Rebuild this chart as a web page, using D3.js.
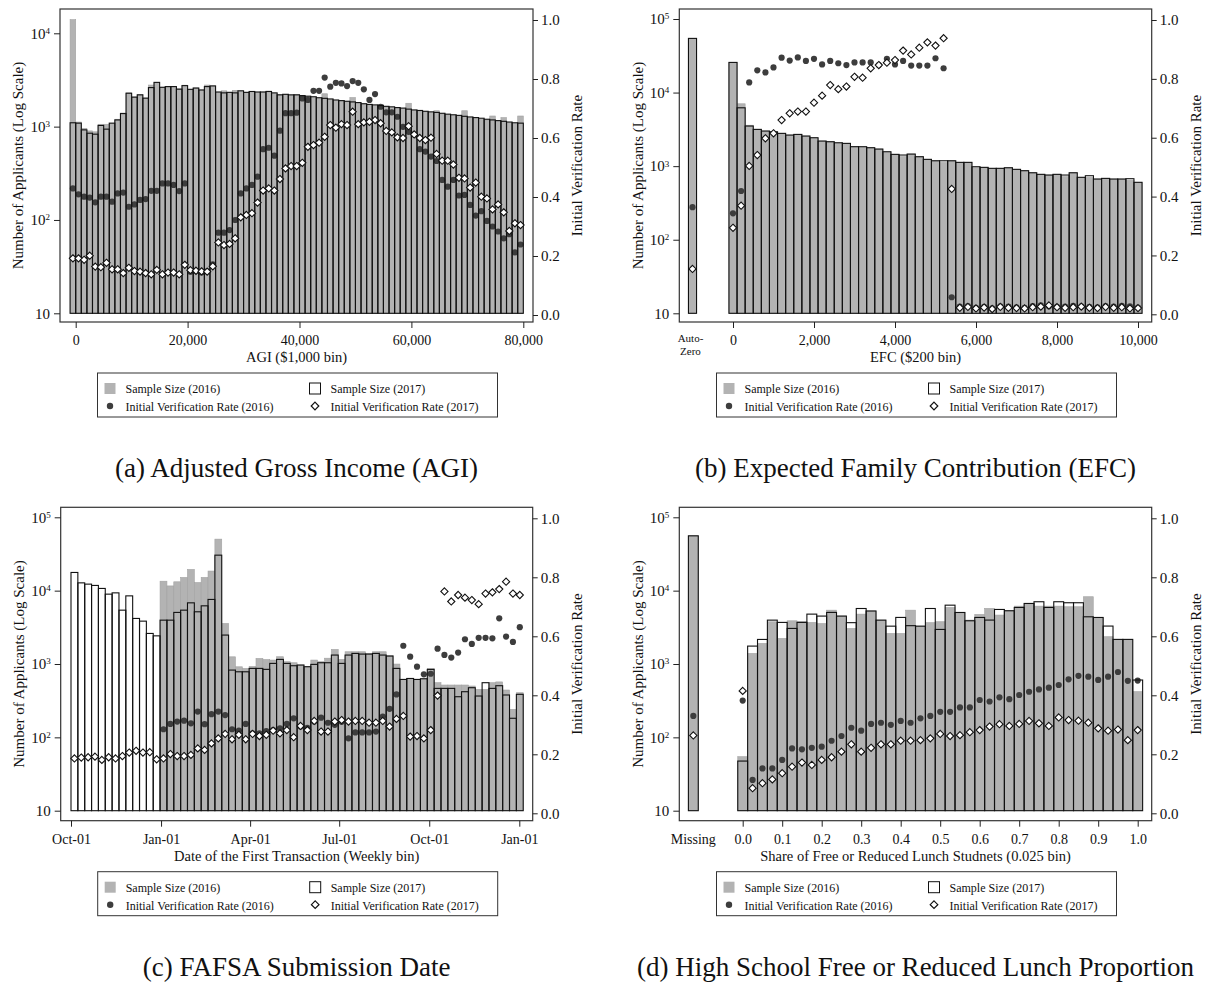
<!DOCTYPE html>
<html lang="en">
<head>
<meta charset="UTF-8">
<title>Sample size and initial verification rate</title>
<script src="https://d3js.org/d3.v7.min.js"></script>
<style>
  body { margin: 0; background: #fff; }
  svg text { font-family: 'Liberation Serif', 'Times New Roman', serif; fill: #111; }
  .tick line { stroke: #222; }
</style>
</head>
<body>
<script>
// (a) AGI, $1,000 bins from -1,000 to 80,000
var agiN16 = [14000, 1120, 960, 900, 880, 1060, 1060, 1080, 1200, 1400,
  2300, 2080, 2200, 2020, 2790, 2980, 2640, 2650, 2700, 2540,
  2780, 2480, 2600, 2470, 2790, 2730, 2330, 2420, 2330, 2450,
  2400, 2330, 2380, 2330, 2350, 2400, 2280, 2200, 2220, 2180,
  2200, 2120, 2090, 2050, 2000, 2250, 1950, 1900, 1880, 1850,
  2050, 1780, 1740, 1700, 1680, 1720, 1630, 1600, 1580, 1560,
  1780, 1490, 1470, 1440, 1420, 1480, 1370, 1340, 1320, 1290,
  1480, 1250, 1230, 1200, 1180, 1300, 1140, 1250, 1100, 1080, 1300];
var agiN17 = [1100, 1090, 923, 850, 830, 1030, 940, 1090, 1180, 1380,
  2280, 2070, 2190, 2020, 2620, 2980, 2640, 2685, 2685, 2520,
  2750, 2510, 2590, 2470, 2685, 2730, 2350, 2300, 2330, 2300,
  2420, 2330, 2380, 2350, 2350, 2380, 2300, 2190, 2220, 2190,
  2190, 2150, 2120, 2090, 2040, 2010, 1980, 1930, 1900, 1870,
  1840, 1810, 1760, 1730, 1710, 1680, 1650, 1630, 1600, 1580,
  1540, 1510, 1490, 1460, 1440, 1420, 1390, 1360, 1340, 1320,
  1290, 1270, 1250, 1230, 1200, 1180, 1160, 1140, 1120, 1100, 1090];
var agiR16 = [0.429, 0.409, 0.401, 0.398, 0.382, 0.401, 0.401, 0.384, 0.412, 0.415,
  0.367, 0.375, 0.390, 0.393, 0.421, 0.421, 0.446, 0.446, 0.441, 0.420,
  0.446, 0.147, 0.150, 0.144, 0.148, 0.172, 0.279, 0.279, 0.288, 0.322,
  0.412, 0.429, 0.441, 0.469, 0.562, 0.567, 0.540, 0.625, 0.684, 0.684,
  0.686, 0.734, 0.729, 0.760, 0.760, 0.805, 0.774, 0.787, 0.785, 0.776,
  0.793, 0.787, 0.765, 0.729, 0.749, 0.706, 0.687, 0.687, 0.672, 0.638,
  0.621, 0.612, 0.562, 0.554, 0.537, 0.522, 0.458, 0.435, 0.458, 0.405,
  0.407, 0.373, 0.337, 0.352, 0.319, 0.300, 0.283, 0.260, 0.274, 0.212, 0.239];
var agiR17 = [0.192, 0.192, 0.187, 0.201, 0.164, 0.162, 0.177, 0.155, 0.155, 0.142,
  0.160, 0.149, 0.147, 0.142, 0.138, 0.153, 0.138, 0.144, 0.144, 0.138,
  0.170, 0.152, 0.150, 0.148, 0.147, 0.165, 0.246, 0.237, 0.241, 0.260,
  0.331, 0.339, 0.345, 0.381, 0.422, 0.429, 0.422, 0.461, 0.497, 0.505,
  0.505, 0.516, 0.570, 0.576, 0.584, 0.604, 0.644, 0.635, 0.647, 0.644,
  0.689, 0.647, 0.653, 0.655, 0.661, 0.650, 0.624, 0.619, 0.602, 0.600,
  0.640, 0.612, 0.600, 0.593, 0.601, 0.546, 0.523, 0.523, 0.510, 0.465,
  0.463, 0.432, 0.449, 0.401, 0.395, 0.358, 0.375, 0.348, 0.285, 0.311, 0.305];
var agiTicks = [0, 20000, 40000, 60000, 80000];

// (b) EFC, $200 bins from 0 to 10,000, plus auto-zero
var efcN16 = [25700, 7040, 3600, 3160, 3000, 2900, 2790, 2645, 2700, 2565,
  2400, 2193, 2147, 2050, 2040, 1838, 1800, 1780, 1707, 1530,
  1446, 1350, 1459, 1343, 1237, 1183, 1120, 1183, 1126, 1126,
  950, 963, 934, 934, 951, 905, 867, 813, 774, 757,
  774, 720, 813, 705, 700, 668, 682, 668, 668, 640, 603];
var efcN17 = [25700, 6210, 3510, 3160, 3000, 2933, 2790, 2645, 2700, 2565,
  2435, 2193, 2147, 2080, 2040, 1838, 1838, 1780, 1707, 1570,
  1446, 1416, 1459, 1343, 1237, 1183, 1183, 1183, 1126, 1126,
  982, 963, 934, 934, 951, 905, 867, 813, 774, 757,
  774, 757, 813, 705, 741, 668, 682, 668, 668, 675, 603];
var efcR16 = [0.343, 0.419, 0.788, 0.829, 0.822, 0.839, 0.872, 0.862, 0.873, 0.861,
  0.868, 0.849, 0.861, 0.853, 0.847, 0.856, 0.856, 0.856, 0.847, 0.868,
  0.849, 0.861, 0.845, 0.845, 0.845, 0.870, 0.836, 0.058, 0.026, 0.028,
  0.022, 0.025, 0.020, 0.027, 0.026, 0.024, 0.022, 0.028, 0.030, 0.027,
  0.025, 0.026, 0.029, 0.027, 0.025, 0.024, 0.028, 0.026, 0.029, 0.027, 0.023];
var efcR17 = [0.294, 0.369, 0.504, 0.541, 0.598, 0.615, 0.660, 0.683, 0.689, 0.689,
  0.719, 0.743, 0.779, 0.765, 0.774, 0.807, 0.804, 0.836, 0.847, 0.855,
  0.864, 0.896, 0.883, 0.906, 0.924, 0.913, 0.938, 0.426, 0.022, 0.025,
  0.020, 0.023, 0.018, 0.025, 0.022, 0.021, 0.020, 0.024, 0.026, 0.030,
  0.024, 0.022, 0.024, 0.026, 0.022, 0.021, 0.025, 0.022, 0.024, 0.020, 0.021];
var efcAutoZero = [54500, 54500, 0.364, 0.154];   // n16, n17, rate16, rate17
var efcTicks = [0, 2000, 4000, 6000, 8000, 10000];

// (c) FAFSA submission date, weekly bins from Oct-01 (2016 cycle starts at Jan-01)
var dateN16 = [null, null, null, null, null, null, null, null, null, null, null, null, null,
  13450, 11600, 13200, 15140, 19450, 12900, 15140, 18500, 50400, 3570,
  1253, 916, 871, 925, 1191, 1150, 1132, 1256, 1074, 1040,
  968, 918, 1132, 1074, 1200, 1581, 1155, 1469, 1469, 1469,
  1400, 1469, 1469, 1300, 998, 616, 635, 616, 629, 871,
  556, 517, 517, 517, 517, 501, 451, 451, 556, 570, 442, 241, 406];
var dateN17 = [17700, 12770, 12270, 11780, 10720, 8960, 9330, 5420, 8490, 4180, 3840, 2610, 2420,
  3960, 3960, 5050, 5420, 6820, 5150, 6210, 7590, 30470, 2480,
  826, 783, 783, 871, 871, 845, 1019, 1155, 1019, 947,
  968, 918, 988, 1040, 1040, 1324, 1019, 1324, 1394, 1365,
  1365, 1394, 1324, 1283, 871, 616, 635, 616, 629, 844,
  465, 465, 465, 358, 419, 475, 366, 556, 465, 506, 378, 182, 386];
var dateR16 = [null, null, null, null, null, null, null, null, null, null, null, null, null,
  0.285, 0.303, 0.311, 0.314, 0.305, 0.345, 0.302, 0.336, 0.345, 0.333,
  0.285, 0.280, 0.303, 0.271, 0.271, 0.279, 0.282, 0.288, 0.303, 0.322,
  0.294, 0.290, 0.311, 0.324, 0.307, 0.300, 0.310, 0.254, 0.274, 0.274,
  0.274, 0.277, 0.328, 0.354, 0.403, 0.568, 0.531, 0.497, 0.471, 0.473,
  0.558, 0.537, 0.528, 0.545, 0.590, 0.574, 0.595, 0.595, 0.593, 0.661, 0.599, 0.581, 0.631];
var dateR17 = [0.186, 0.189, 0.190, 0.192, 0.181, 0.190, 0.186, 0.194, 0.206, 0.212, 0.206, 0.207, 0.183,
  0.186, 0.201, 0.194, 0.194, 0.198, 0.220, 0.215, 0.237, 0.254, 0.269,
  0.251, 0.266, 0.251, 0.269, 0.262, 0.266, 0.280, 0.271, 0.282, 0.258,
  0.296, 0.282, 0.313, 0.277, 0.277, 0.311, 0.316, 0.311, 0.313, 0.313,
  0.307, 0.307, 0.313, 0.294, 0.320, 0.330, 0.260, 0.262, 0.254, 0.282,
  0.399, 0.752, 0.718, 0.740, 0.731, 0.723, 0.709, 0.745, 0.749, 0.760, 0.785, 0.745, 0.740];
var dateTickDays = [0, 92, 183, 274, 366, 458];
var dateTickLabels = ["Oct-01", "Jan-01", "Apr-01", "Jul-01", "Oct-01", "Jan-01"];

// (d) share of free or reduced lunch, 0.025 bins, plus missing
var lunchN16 = [54.5, 1394, 1909, 3760, 2234, 3880, 3800, 3690, 3560, 5420,
  4500, 3055, 4786, 5280, 3963, 2610, 2610, 5420, 3280, 3660,
  3770, 5900, 5040, 3970, 4740, 5730, 4645, 5320, 6150, 6690,
  6150, 6150, 6150, 6030, 6030, 8260, 4310, 2355, 2165, 2165, 420];
var lunchN17 = [47.5, 1754, 2162, 3963, 3690, 3055, 3690, 4786, 4500, 5050,
  4500, 3660, 5710, 5280, 3963, 3280, 4315, 3330, 3280, 5710,
  2960, 6340, 5040, 3885, 4310, 3970, 5540, 5320, 5900, 6690,
  7060, 5900, 7060, 6840, 6840, 4400, 4310, 3290, 2165, 2165, 605];
var lunchR16 = [0.382, 0.113, 0.152, 0.152, 0.181, 0.220, 0.217, 0.222, 0.226, 0.246,
  0.262, 0.290, 0.280, 0.303, 0.307, 0.300, 0.313, 0.307, 0.322, 0.330,
  0.344, 0.344, 0.359, 0.359, 0.384, 0.379, 0.393, 0.387, 0.401, 0.412,
  0.420, 0.426, 0.435, 0.454, 0.466, 0.463, 0.452, 0.463, 0.479, 0.449, 0.450];
var lunchR17 = [0.415, 0.085, 0.102, 0.115, 0.136, 0.158, 0.172, 0.164, 0.181, 0.190,
  0.209, 0.234, 0.209, 0.222, 0.234, 0.234, 0.246, 0.246, 0.248, 0.254,
  0.269, 0.262, 0.265, 0.275, 0.282, 0.294, 0.302, 0.296, 0.303, 0.313,
  0.305, 0.296, 0.325, 0.316, 0.314, 0.307, 0.288, 0.280, 0.284, 0.248, 0.282];
var lunchMissing = [55900, 55900, 0.330, 0.264];
var lunchTicks = [0, 0.1, 0.2, 0.3, 0.4, 0.5, 0.6, 0.7, 0.8, 0.9, 1.0];

var rateTicks = [0, 0.2, 0.4, 0.6, 0.8, 1.0];
var legendLabels = ["Sample Size (2016)", "Sample Size (2017)",
  "Initial Verification Rate (2016)", "Initial Verification Rate (2017)"];

var GRAY = "#b3b3b3", DOT = "#3d3d3d", INK = "#111";

var svg = d3.select("body").append("svg")
  .attr("width", 1208)
  .attr("height", 986);

function diamond(r) {
  return "M0," + (-r) + "L" + r + ",0L0," + r + "L" + (-r) + ",0Z";
}

function panel(o) {
  var f = o.frame;
  var g = svg.append("g");
  var x = d3.scaleLinear().domain(o.xDomain).range(o.xRange);
  var yN = d3.scaleLog().domain(o.nDomain).range(o.nRange);
  var yR = d3.scaleLinear().domain([0, 1]).range(o.rRange);

  var rows = o.n17.map(function(d, i) {
    return { pos: o.pos(i), n16: o.n16[i], n17: d, r16: o.r16[i], r17: o.r17[i] };
  });
  if (o.extra) {
    rows.push({ pos: o.extra.pos, n16: o.extra.vals[0], n17: o.extra.vals[1],
      r16: o.extra.vals[2], r17: o.extra.vals[3] });
  }
  var half = o.binWidth / 2;
  var base = yN(10);

  // 2016 sample size, grey bars
  g.selectAll(".b16").data(rows.filter(function(d) { return d.n16 != null; }))
    .enter().append("rect")
    .attr("x", function(d) { return x(d.pos - half); })
    .attr("width", function(d) { return x(d.pos + half) - x(d.pos - half); })
    .attr("y", function(d) { return yN(d.n16); })
    .attr("height", function(d) { return base - yN(d.n16); })
    .attr("fill", GRAY)
    .attr("stroke", "#a2a2a2")
    .attr("stroke-width", 0.6);

  // 2016 rate, dark dots
  g.selectAll(".r16").data(rows.filter(function(d) { return d.r16 != null; }))
    .enter().append("circle")
    .attr("cx", function(d) { return x(d.pos); })
    .attr("cy", function(d) { return yR(d.r16); })
    .attr("r", 3.1)
    .attr("fill", DOT);

  // 2017 sample size, hollow bars
  g.selectAll(".b17").data(rows.filter(function(d) { return d.n17 != null; }))
    .enter().append("rect")
    .attr("x", function(d) { return x(d.pos - half); })
    .attr("width", function(d) { return x(d.pos + half) - x(d.pos - half); })
    .attr("y", function(d) { return yN(d.n17); })
    .attr("height", function(d) { return base - yN(d.n17); })
    .attr("fill", "none")
    .attr("stroke", INK)
    .attr("stroke-width", 1.1);

  // 2017 rate, hollow diamonds
  g.selectAll(".r17").data(rows.filter(function(d) { return d.r17 != null; }))
    .enter().append("path")
    .attr("d", diamond(3.6))
    .attr("transform", function(d) { return "translate(" + x(d.pos) + "," + yR(d.r17) + ")"; })
    .attr("fill", "#fff")
    .attr("stroke", INK)
    .attr("stroke-width", 1.1);

  // frame
  g.append("rect")
    .attr("x", f.x0).attr("y", f.y0)
    .attr("width", f.x1 - f.x0).attr("height", f.y1 - f.y0)
    .attr("fill", "none")
    .attr("stroke", "#333")
    .attr("stroke-width", 1.2);

  // left log axis
  var la = g.append("g")
    .attr("transform", "translate(" + f.x0 + ",0)")
    .call(d3.axisLeft(yN).tickValues(o.logTicks).tickSize(6).tickPadding(4));
  la.select(".domain").remove();
  la.selectAll(".tick text")
    .attr("font-size", 15)
    .each(function(d) {
      var t = d3.select(this);
      var e = Math.round(Math.log10(d));
      t.text("");
      t.append("tspan").text("10");
      if (e > 1) t.append("tspan").attr("dy", "-0.55em").attr("font-size", 9).text(e);
    });

  // right rate axis
  var ra = g.append("g")
    .attr("transform", "translate(" + f.x1 + ",0)")
    .call(d3.axisRight(yR).tickValues(rateTicks).tickFormat(d3.format(".1f")).tickSize(5).tickPadding(3));
  ra.select(".domain").remove();
  ra.selectAll(".tick text").attr("font-size", 15);

  // bottom axis
  var ba = g.append("g")
    .attr("transform", "translate(0," + f.y1 + ")")
    .call(d3.axisBottom(x).tickValues(o.xTicks).tickFormat(o.xFormat).tickSize(6).tickPadding(7));
  ba.select(".domain").remove();
  ba.selectAll(".tick text").attr("font-size", 14);

  // extra category label (Auto-Zero / Missing)
  if (o.extra) {
    var lab = g.append("text")
      .attr("x", x(o.extra.pos))
      .attr("text-anchor", "middle");
    if (o.extra.label.length === 1) {
      lab.attr("y", f.y1 + 23.5).attr("font-size", 14).text(o.extra.label[0]);
    } else {
      lab.attr("font-size", 11);
      lab.append("tspan").attr("x", x(o.extra.pos) - 2).attr("y", f.y1 + 20).text(o.extra.label[0]);
      lab.append("tspan").attr("x", x(o.extra.pos) - 2).attr("y", f.y1 + 33).text(o.extra.label[1]);
    }
  }

  var cx = (f.x0 + f.x1) / 2;
  var cy = (f.y0 + f.y1) / 2;

  g.append("text")
    .attr("x", cx).attr("y", f.y1 + 40)
    .attr("text-anchor", "middle")
    .attr("font-size", 14.5)
    .text(o.xTitle);

  g.append("text")
    .attr("transform", "translate(" + (f.x0 - 42) + "," + cy + ") rotate(-90)")
    .attr("text-anchor", "middle")
    .attr("dy", "0.35em")
    .attr("font-size", 15)
    .text("Number of Applicants (Log Scale)");

  g.append("text")
    .attr("transform", "translate(" + (f.x1 + 44) + "," + cy + ") rotate(-90)")
    .attr("text-anchor", "middle")
    .attr("dy", "0.35em")
    .attr("font-size", 15)
    .text("Initial Verification Rate");

  // legend
  var lx = cx - 199, ly = f.y1 + 51;
  var lg = g.append("g").attr("transform", "translate(" + lx + "," + ly + ")");
  lg.append("rect")
    .attr("width", 400).attr("height", 44)
    .attr("fill", "#fff").attr("stroke", "#333").attr("stroke-width", 1);
  lg.append("rect").attr("x", 7).attr("y", 10).attr("width", 11).attr("height", 11).attr("fill", GRAY);
  lg.append("rect").attr("x", 212).attr("y", 10).attr("width", 11).attr("height", 11)
    .attr("fill", "#fff").attr("stroke", INK).attr("stroke-width", 1);
  lg.append("circle").attr("cx", 12.5).attr("cy", 33).attr("r", 3.2).attr("fill", DOT);
  lg.append("path").attr("d", diamond(3.8)).attr("transform", "translate(217.5,33)")
    .attr("fill", "#fff").attr("stroke", INK).attr("stroke-width", 1.2);
  var lpos = [[28, 20], [233, 20], [28, 38], [233, 38]];
  legendLabels.forEach(function(s, i) {
    lg.append("text").attr("x", lpos[i][0]).attr("y", lpos[i][1])
      .attr("font-size", 12).text(s);
  });

  // caption
  g.append("text")
    .attr("x", cx).attr("y", f.y1 + 155)
    .attr("text-anchor", "middle")
    .attr("font-size", 27)
    .text(o.caption);
}

var comma = d3.format(",");

panel({
  frame: { x0: 60, x1: 533, y0: 9, y1: 322 },
  xDomain: [0, 80000], xRange: [75.7, 523.3],
  nDomain: [10, 10000], nRange: [313.3, 33.3],
  rRange: [315, 20],
  logTicks: [10, 100, 1000, 10000],
  n16: agiN16, n17: agiN17, r16: agiR16, r17: agiR17,
  pos: function(i) { return (i - 0.5) * 1000; }, binWidth: 1000,
  xTicks: agiTicks, xFormat: comma,
  xTitle: "AGI ($1,000 bin)",
  caption: "(a) Adjusted Gross Income (AGI)"
});

panel({
  frame: { x0: 679.3, x1: 1151.7, y0: 9, y1: 322 },
  xDomain: [0, 10000], xRange: [733, 1138],
  nDomain: [10, 100000], nRange: [313.3, 19],
  rRange: [314.3, 20],
  logTicks: [10, 100, 1000, 10000, 100000],
  n16: efcN16, n17: efcN17, r16: efcR16, r17: efcR17,
  pos: function(i) { return i * 200; }, binWidth: 200,
  extra: { pos: -1000, vals: efcAutoZero, label: ["Auto-", "Zero"] },
  xTicks: efcTicks, xFormat: comma,
  xTitle: "EFC ($200 bin)",
  caption: "(b) Expected Family Contribution (EFC)"
});

panel({
  frame: { x0: 60.7, x1: 532.7, y0: 507.3, y1: 820.7 },
  xDomain: [0, 458], xRange: [71, 519.3],
  nDomain: [10, 100000], nRange: [810.7, 517.3],
  rRange: [813.3, 518.3],
  logTicks: [10, 100, 1000, 10000, 100000],
  n16: dateN16, n17: dateN17, r16: dateR16, r17: dateR17,
  pos: function(i) { return i * 7 + 3.5; }, binWidth: 7,
  xTicks: dateTickDays,
  xFormat: function(d, i) { return dateTickLabels[i]; },
  xTitle: "Date of the First Transaction (Weekly bin)",
  caption: "(c) FAFSA Submission Date"
});

panel({
  frame: { x0: 679.3, x1: 1151.7, y0: 507.3, y1: 820.7 },
  xDomain: [0, 1], xRange: [742.7, 1137.7],
  nDomain: [10, 100000], nRange: [810.7, 517.3],
  rRange: [813.3, 518.3],
  logTicks: [10, 100, 1000, 10000, 100000],
  n16: lunchN16, n17: lunchN17, r16: lunchR16, r17: lunchR17,
  pos: function(i) { return i * 0.025; }, binWidth: 0.025,
  extra: { pos: -0.125, vals: lunchMissing, label: ["Missing"] },
  xTicks: lunchTicks, xFormat: d3.format(".1f"),
  xTitle: "Share of Free or Reduced Lunch Studnets (0.025 bin)",
  caption: "(d) High School Free or Reduced Lunch Proportion"
});
</script>
</body>
</html>
